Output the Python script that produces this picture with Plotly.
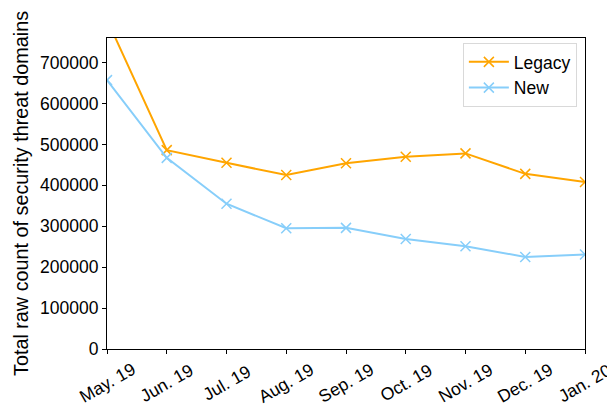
import plotly.graph_objects as go

months = ["May. 19", "Jun. 19", "Jul. 19", "Aug. 19", "Sep. 19", "Oct. 19", "Nov. 19", "Dec. 19", "Jan. 20"]
legacy = [805000, 486000, 455000, 425000, 454000, 470000, 478000, 428000, 408000]
new = [657000, 467000, 355000, 295000, 296000, 269000, 251000, 225000, 231000]
y_ticks = [0, 100000, 200000, 300000, 400000, 500000, 600000, 700000]

xs = list(range(len(months)))
font = "Liberation Sans, Arial, sans-serif"

fig = go.Figure()
fig.add_trace(go.Scatter(x=xs, y=legacy, name="Legacy", mode="lines+markers",
                         line=dict(color="#FFA500", width=2),
                         marker=dict(symbol="x-thin", size=10, line=dict(color="#FFA500", width=1.5))))
fig.add_trace(go.Scatter(x=xs, y=new, name="New", mode="lines+markers",
                         line=dict(color="#87CEFA", width=2),
                         marker=dict(symbol="x-thin", size=10, line=dict(color="#87CEFA", width=1.5))))

for i, m in enumerate(months):
    fig.add_annotation(x=i, y=0, xref="x", yref="paper", text=m, showarrow=False,
                       textangle=-30, xanchor="center", yanchor="middle", yshift=-34,
                       font=dict(size=17.5, color="black", family=font))

fig.update_layout(
    width=607, height=402,
    margin=dict(l=97, r=30, t=30, b=61),
    paper_bgcolor="white", plot_bgcolor="white",
    font=dict(family=font, size=17.5, color="black"),
    showlegend=True,
    legend=dict(x=0.983, y=0.984, xanchor="right", yanchor="top",
                bordercolor="#d9d9d9", borderwidth=1, bgcolor="rgba(255,255,255,0.8)",
                font=dict(size=17.5), tracegroupgap=0, itemwidth=40),
    xaxis=dict(range=[0, 8], tickmode="array", tickvals=xs, showticklabels=False,
               ticks="outside", ticklen=4, tickcolor="black", showgrid=False, zeroline=False,
               showline=True, linecolor="black", linewidth=1, mirror=True),
    yaxis=dict(range=[0, 760000], tickmode="array", tickvals=y_ticks,
               ticktext=[str(v) for v in y_ticks],
               ticks="outside", ticklen=4, tickcolor="black", showgrid=False, zeroline=False,
               showline=True, linecolor="black", linewidth=1, mirror=True,
               tickfont=dict(size=17.5),
               title=dict(text="Total raw count of security threat domains", font=dict(size=19.8), standoff=6)),
)

fig.write_html("out.html")
